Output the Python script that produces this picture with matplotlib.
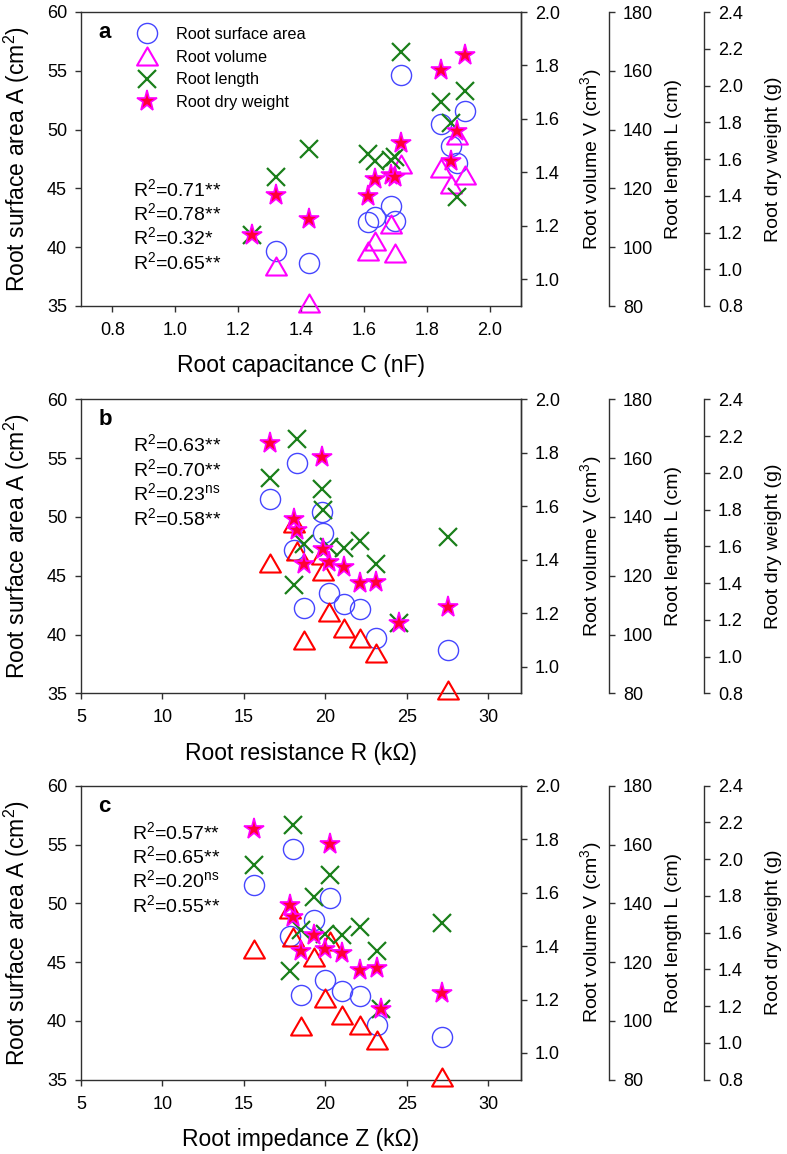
import numpy as np
import matplotlib
matplotlib.use('Agg')
import matplotlib.pyplot as plt
from matplotlib.path import Path

plt.rcParams['font.family'] = ['Liberation Sans', 'DejaVu Sans']
plt.rcParams['mathtext.fontset'] = 'custom'
plt.rcParams['mathtext.rm'] = 'Liberation Sans'
plt.rcParams['mathtext.it'] = 'Liberation Sans:italic'
plt.rcParams['mathtext.bf'] = 'Liberation Sans:bold'

nan = np.nan
# ---- data (12 samples) ----
capacitance_nF = [1.245, 1.321, 1.425, 1.612, 1.637, 1.686, 1.700, 1.718, 1.846, 1.878, 1.896, 1.922]
resistance_kohm = [24.53, 23.11, 27.50, 22.15, 21.14, 20.22, 18.66, 18.23, 19.78, 19.82, 18.09, 16.57]
impedance_kohm = [23.39, 23.17, 27.15, 22.11, 21.04, 19.98, 18.48, 18.01, 20.28, 19.27, 17.80, 15.61]
surface_area_cm2 = [nan, 39.68, 38.66, 42.14, 42.57, 43.50, 42.23, 54.61, 50.45, 48.61, 47.19, 51.55]
volume_cm3 = [nan, 1.050, 0.911, 1.106, 1.143, 1.206, 1.100, 1.433, 1.418, 1.358, 1.539, 1.389]
length_cm = [104.0, 123.9, 133.3, 131.8, 129.3, 129.6, 130.8, 166.5, 149.5, 142.2, 117.0, 153.1]
dry_weight_g = [1.185, 1.406, 1.272, 1.398, 1.490, 1.513, 1.502, 1.686, 2.085, 1.588, 1.750, 2.164]

r2_a = ['0.71**', '0.78**', '0.32*', '0.65**']
r2_b = ['0.63**', '0.70**', '0.23ns', '0.58**']
r2_c = ['0.57**', '0.65**', '0.20ns', '0.55**']

panel_letters = ['a', 'b', 'c']
x_labels = ['Root capacitance C (nF)', 'Root resistance R (k\u03a9)', 'Root impedance Z (k\u03a9)']
x_data = [capacitance_nF, resistance_kohm, impedance_kohm]
r2_all = [r2_a, r2_b, r2_c]
x_ticks = [[0.8, 1.0, 1.2, 1.4, 1.6, 1.8, 2.0], [5, 10, 15, 20, 25, 30], [5, 10, 15, 20, 25, 30]]
x_ticklabels = [['0.8', '1.0', '1.2', '1.4', '1.6', '1.8', '2.0'],
                ['5', '10', '15', '20', '25', '30'], ['5', '10', '15', '20', '25', '30']]
x_lims = [(0.7, 2.1), (5, 32), (5, 32)]

# ---- styling ----
W, H = 787, 1154
fig = plt.figure(figsize=(W / 100, H / 100), dpi=100)
tops = [12, 399.3, 785.7]
ax_h = 294
ax_w = 440
ax_left = 81

blue = '#4646ff'
magenta = '#ff00ff'
red = '#ff0000'
green = '#1a7f1a'
star_face = '#ff0036'
spine_col = '#303030'
tick_fs = 13
tri = Path([(-1, -0.866), (1, -0.866), (0, 0.866), (-1, -0.866)], closed=True)


def fmt(s):
    if s.endswith('ns'):
        return r'R$^2$=' + s[:-2] + r'$^{\mathrm{ns}}$'
    return r'R$^2$=' + s


r2_pos = [
    (0.119, [0.374, 0.2925, 0.2099, 0.127]),
    (0.119, [0.824, 0.740, 0.656, 0.571]),
    (0.115, [0.819, 0.737, 0.655, 0.571]),
]

for i in range(3):
    top = tops[i]
    ax = fig.add_axes([ax_left / W, 1 - (top + ax_h) / H, ax_w / W, ax_h / H])
    vol = ax.twinx()
    lax = ax.twinx()
    wax = ax.twinx()
    lax.spines['right'].set_position(('axes', 1.2))
    wax.spines['right'].set_position(('axes', 1.416))
    for t in (vol, lax, wax):
        for s in ('top', 'bottom', 'left'):
            t.spines[s].set_visible(False)
    for a in (ax, vol, lax, wax):
        for s in a.spines.values():
            s.set_color(spine_col)
            s.set_linewidth(1.0)
        a.tick_params(direction='out', length=4, width=1, color=spine_col,
                      labelsize=tick_fs, pad=6)
    ax.tick_params(axis='x', pad=7.5)
    ax.tick_params(axis='y', right=False, labelright=False)

    xs = x_data[i]
    tri_col = magenta if i == 0 else red
    h1, = ax.plot(xs, surface_area_cm2, linestyle='none', marker='o', ms=14.5,
                  mfc='none', mec=blue, mew=1.0, clip_on=False, label='Root surface area')
    h2, = vol.plot(xs, volume_cm3, linestyle='none', marker=tri, ms=15,
                   mfc='none', mec=tri_col, mew=1.5, clip_on=False, label='Root volume')
    h3, = lax.plot(xs, length_cm, linestyle='none', marker='x', ms=13,
                   mec=green, mew=1.6, clip_on=False, label='Root length')
    h4, = wax.plot(xs, dry_weight_g, linestyle='none', marker='*', ms=15.5,
                   mfc=star_face, mec=magenta, mew=1.2, clip_on=False, label='Root dry weight')

    ax.set_xlim(*x_lims[i])
    ax.set_xticks(x_ticks[i])
    ax.set_xticklabels(x_ticklabels[i])
    ax.set_ylim(35, 60)
    ax.set_yticks([35, 40, 45, 50, 55, 60])
    vol.set_ylim(0.9, 2.0)
    vol.set_yticks([1.0, 1.2, 1.4, 1.6, 1.8, 2.0])
    vol.set_yticklabels(['1.0', '1.2', '1.4', '1.6', '1.8', '2.0'])
    lax.set_ylim(80, 180)
    lax.set_yticks([80, 100, 120, 140, 160, 180])
    wax.set_ylim(0.8, 2.4)
    wax.set_yticks([0.8, 1.0, 1.2, 1.4, 1.6, 1.8, 2.0, 2.2, 2.4])
    wax.set_yticklabels(['0.8', '1.0', '1.2', '1.4', '1.6', '1.8', '2.0', '2.2', '2.4'])

    ax.set_xlabel(x_labels[i], fontsize=16.5, labelpad=11)
    ax.set_ylabel('Root surface area A (cm$^2$)', fontsize=16.5)
    ax.yaxis.set_label_coords(-0.111, 0.5)
    vol.set_ylabel('Root volume V (cm$^3$)', fontsize=14)
    vol.yaxis.set_label_coords(1.1295, 0.5)
    lax.set_ylabel('Root length L (cm)', fontsize=14)
    lax.yaxis.set_label_coords(1.327, 0.5)
    wax.set_ylabel('Root dry weight (g)', fontsize=14)
    wax.yaxis.set_label_coords(1.5545, 0.5)

    ax.text(0.039, 0.912, panel_letters[i], transform=ax.transAxes, fontsize=16,
            fontweight='bold', va='baseline', ha='left')
    xr, yrs = r2_pos[i]
    for s, yy in zip(r2_all[i], yrs):
        ax.text(xr, yy, fmt(s), transform=ax.transAxes, fontsize=14,
                va='baseline', ha='left')

    if i == 0:
        ax.legend(handles=[h1, h2, h3, h4], loc='upper left', bbox_to_anchor=(0.122, 0.950),
                  frameon=False, fontsize=11.7, handlelength=1.5, handletextpad=1.03,
                  labelspacing=0.48, borderpad=0, borderaxespad=0, numpoints=1)

fig.savefig('out.png', dpi=100)
